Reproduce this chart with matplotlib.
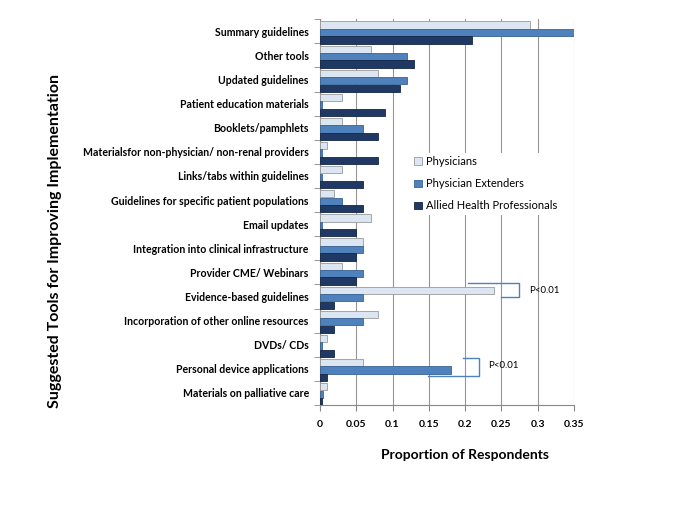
import numpy as np
import matplotlib.pyplot as plt

# categories, top to bottom
categories = [
    "Summary guidelines",
    "Other tools",
    "Updated guidelines",
    "Patient education materials",
    "Booklets/pamphlets",
    "Materialsfor non-physician/ non-renal providers",
    "Links/tabs within guidelines",
    "Guidelines for specific patient populations",
    "Email updates",
    "Integration into clinical infrastructure",
    "Provider CME/ Webinars",
    "Evidence-based guidelines",
    "Incorporation of other online resources",
    "DVDs/ CDs",
    "Personal device applications",
    "Materials on palliative care",
]
physicians = [0.29, 0.07, 0.08, 0.03, 0.03, 0.01, 0.03, 0.02,
              0.07, 0.06, 0.03, 0.24, 0.08, 0.01, 0.06, 0.01]
extenders = [0.35, 0.12, 0.12, 0.003, 0.06, 0.003, 0.003, 0.03,
             0.003, 0.06, 0.06, 0.06, 0.06, 0.003, 0.18, 0.004]
allied = [0.21, 0.13, 0.11, 0.09, 0.08, 0.08, 0.06, 0.06,
          0.05, 0.05, 0.05, 0.02, 0.02, 0.02, 0.01, 0.003]

series = [
    ("Physicians", physicians, "#dce6f2", "#9a9a9a"),
    ("Physician Extenders", extenders, "#4f81bd", "#3a6494"),
    ("Allied Health Professionals", allied, "#1f3864", "#142644"),
]

plt.rcParams['font.family'] = ['Lato', 'DejaVu Sans']

fig = plt.figure(figsize=(6.85, 5.13), dpi=100)
ax = fig.add_axes([0.467, 0.2105, 0.371, 0.752])

n = len(categories)
y = np.arange(n)
h = 0.31
offsets = [-h + 0.05, 0.05, h + 0.05]
for (name, vals, col, edge), off in zip(series, offsets):
    ax.barh(y + off, vals, height=h * 0.97, color=col, edgecolor=edge,
            linewidth=0.6, label=name, zorder=3)

ax.set_xlim(0, 0.35)
ax.set_ylim(n - 0.5, -0.5)
ax.set_xticks(np.arange(0, 0.351, 0.05))
ax.set_xticklabels(["0", "0.05", "0.1", "0.15", "0.2", "0.25", "0.3", "0.35"],
                   fontsize=7.5, fontweight="bold")
ax.set_yticks(y)
ax.set_yticklabels(categories, fontsize=7.6, fontweight="bold")
ax.set_yticks(np.arange(-0.5, n, 1), minor=True)
ax.tick_params(axis="y", which="major", length=0, pad=8)
ax.tick_params(axis="y", which="minor", length=4, color="#888888")
ax.tick_params(axis="x", length=4, color="#888888", pad=7)

ax.grid(axis="x", color="#959595", linewidth=0.8, zorder=0)
ax.spines["top"].set_visible(False)
ax.spines["right"].set_visible(False)
ax.spines["left"].set_color("#888888")
ax.spines["bottom"].set_color("#888888")

ax.set_xlabel("Proportion of Respondents", fontsize=10, fontweight="bold",
              labelpad=22)
ax.xaxis.set_label_coords(0.57, -0.115)
fig.text(0.08, 0.53, "Suggested Tools for Improving Implementation",
         rotation=90, ha="center", va="center", fontsize=11.5, fontweight="bold")

leg = ax.legend(loc="upper left", bbox_to_anchor=(0.335, 0.668), frameon=True,
                fontsize=8, handlelength=0.7, handleheight=0.7,
                labelspacing=1.0, borderpad=0.3, handletextpad=0.4)
leg.get_frame().set_edgecolor("none")
leg.get_frame().set_facecolor("white")
leg.get_frame().set_alpha(1)
leg.set_zorder(5)

# significance brackets
bc = "#4f81bd"
i = categories.index("Evidence-based guidelines")
ax.plot([0.204, 0.274, 0.274, 0.25],
        [i - 0.56, i - 0.56, i + 0.02, i + 0.02],
        color=bc, linewidth=1, clip_on=False, zorder=6)
ax.text(0.2875, i - 0.23, "P<0.01", fontsize=7, va="center", zorder=6)

j = categories.index("Personal device applications")
ax.plot([0.197, 0.219, 0.219, 0.149],
        [j - 0.45, j - 0.45, j + 0.3, j + 0.3],
        color=bc, linewidth=1, clip_on=False, zorder=6)
ax.text(0.232, j - 0.12, "P<0.01", fontsize=7, va="center", zorder=6)

fig.savefig("out.png", dpi=100)
